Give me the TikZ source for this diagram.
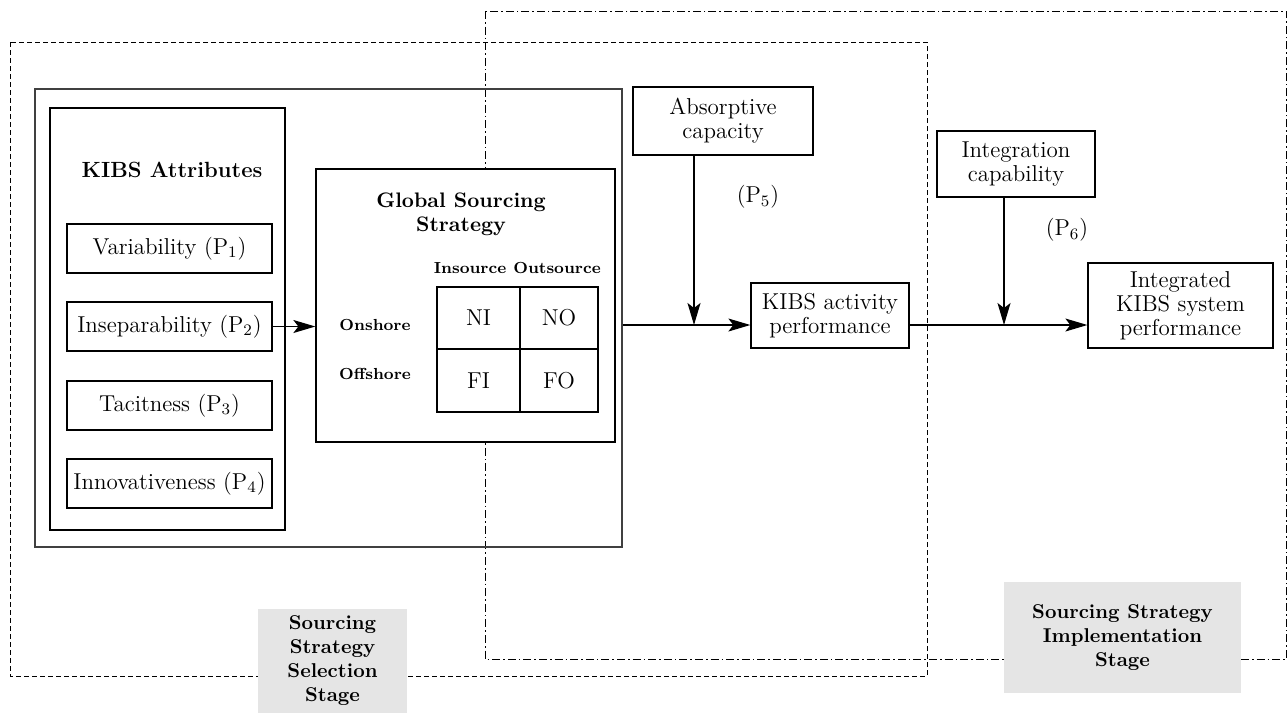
\documentclass[tikz,border=0pt]{standalone}
\usetikzlibrary{arrows.meta}
\newcommand\rmtxt{\fontsize{11.5}{12}\selectfont}
\newcommand\bftxt{\fontsize{10}{12}\selectfont\bfseries}
\newcommand\bigbf{\fontsize{11}{12}\selectfont\bfseries}
\newcommand\gssbf{\fontsize{10.5}{12}\selectfont\bfseries}
\newcommand\smbf{\fontsize{8}{10}\selectfont\bfseries}
\begin{document}
\begin{tikzpicture}[x=0.5pt,y=-0.5pt,
  plainbox/.style={draw, line width=0.65pt, inner sep=0pt, align=center, font=\rmtxt},
  outerbox/.style={draw=black!75, line width=0.9pt, inner sep=0pt},
  head/.style={inner sep=0pt, align=center, font=\gssbf},
  smlabel/.style={inner sep=0pt, font=\smbf},
  plabel/.style={inner sep=0pt, font=\rmtxt},
  stage/.style={fill=black!10, inner sep=0pt, align=center, font=\bftxt},
  seldash/.style={line width=0.5pt, dash pattern=on 2.5pt off 1.5pt},
  impldash/.style={line width=0.5pt, dash pattern=on 4pt off 1.5pt on 0.8pt off 1.5pt},
  arr/.style={line width=0.6pt, -{Stealth[length=11pt, width=6.5pt, inset=2.5pt]}}]
\useasboundingbox (0,0) rectangle (1288,713);

% stage frames
\draw[seldash] (10,42) rectangle (927,676);
\draw[impldash] (485,11) rectangle (1286.5,659);

% KIBS outer block
\node[outerbox, minimum width=293.5pt, minimum height=229pt] (kibs) at (328.5,318) {};
\node[plainbox, minimum width=117.5pt, minimum height=211pt] (attr) at (167.5,319) {};
\node[head, font=\bigbf] (attrlbl) at (172,170) {KIBS Attributes};
\node[plainbox, minimum width=102.5pt, minimum height=24.5pt] (var) at (169.5,248.5) {Variability (P$_1$)};
\node[plainbox, minimum width=102.5pt, minimum height=24.5pt] (insep) at (169.5,326.5) {Inseparability (P$_2$)};
\node[plainbox, minimum width=102.5pt, minimum height=24.5pt] (tac) at (169.5,405.5) {Tacitness (P$_3$)};
\node[plainbox, minimum width=102.5pt, minimum height=24.5pt] (innov) at (169.5,483.5) {Innovativeness (P$_4$)};

% Global sourcing strategy
\node[plainbox, fill=white, minimum width=149.5pt, minimum height=136.5pt] (gss) at (465.5,305.5) {};
\node[head] (gsslbl) at (461,214) {Global Sourcing\\Strategy};
\node[smlabel] (insrc) at (470,268) {Insource};
\node[smlabel] (outsrc) at (557,268) {Outsource};
\node[smlabel] (onsh) at (375,325) {Onshore};
\node[smlabel] (offsh) at (375,374) {Offshore};
\node[plainbox, minimum width=41.5pt, minimum height=31pt] (ni) at (478.5,318) {NI};
\node[plainbox, minimum width=39pt, minimum height=31pt] (no) at (559,318) {NO};
\node[plainbox, minimum width=41.5pt, minimum height=31.5pt] (fi) at (478.5,380.5) {FI};
\node[plainbox, minimum width=39pt, minimum height=31.5pt] (fo) at (559,380.5) {FO};

% right part
\node[plainbox, minimum width=90pt, minimum height=34pt] (absorb) at (723,121) {Absorptive\\capacity};
\node[plainbox, minimum width=79pt, minimum height=32.5pt] (kact) at (830,315.5) {KIBS activity\\performance};
\node[plainbox, minimum width=79pt, minimum height=33pt] (integ) at (1016,164) {Integration\\capability};
\node[plainbox, minimum width=92.5pt, minimum height=42.5pt] (ikibs) at (1180.5,305.5) {Integrated\\KIBS system\\performance};
\node[plabel] (p5) at (758,197) {(P$_5$)};
\node[plabel] (p6) at (1067,230) {(P$_6$)};

% stage labels
\node[stage, minimum width=74.5pt, minimum height=52pt] (selstage) at (332.5,661) {Sourcing\\Strategy\\Selection\\Stage};
\node[stage, minimum width=118.5pt, minimum height=55.5pt] (implstage) at (1122.5,637.5) {Sourcing Strategy\\Implementation\\Stage};

% connectors
\coordinate (m) at (0,325);
\coordinate (j1) at (694,325);
\coordinate (j2) at (1004,325);
\draw[arr] (insep.east) -- (gss.west |- insep.east);
\draw[arr] (kibs.east |- m) -- (kact.west |- m);
\draw[arr] (absorb.south -| j1) -- (j1);
\draw[arr] (kact.east |- m) -- (ikibs.west |- m);
\draw[arr] (integ.south -| j2) -- (j2);
\end{tikzpicture}
\end{document}
